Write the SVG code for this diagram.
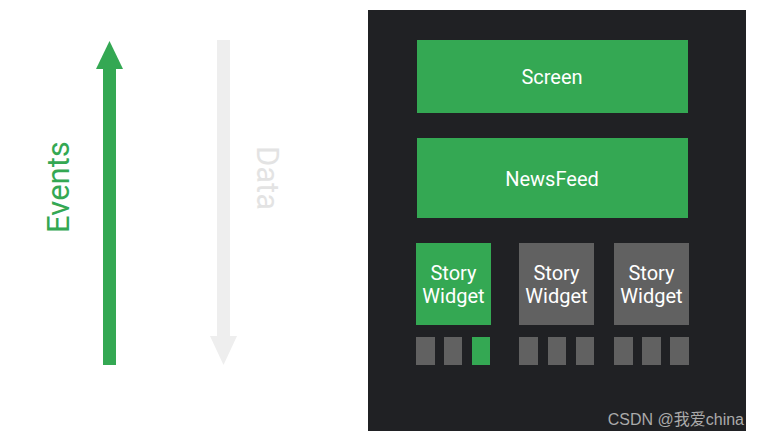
<svg xmlns="http://www.w3.org/2000/svg" width="760" height="439" viewBox="0 0 760 439">
<style>
.g{fill:#34a853}
.k{fill:#616161}
.t{font-family:Roboto,"Liberation Sans",sans-serif;font-size:20px;fill:#ffffff;text-anchor:middle}
</style>
<rect width="760" height="439" fill="#ffffff"/>
<g id="connectors">
<g id="events-arrow">
<rect x="103" y="68" width="13" height="297" class="g"/>
<polygon points="96,69 109.5,41 123,69" class="g"/>
<text transform="translate(69,187) rotate(-90)" text-anchor="middle" font-family="Roboto,'Liberation Sans',sans-serif" font-size="31" fill="#34a853">Events</text>
</g>
<g id="data-arrow">
<rect x="217" y="40" width="13" height="297" fill="#eeeeee"/>
<polygon points="210,336 223.5,365 237,336" fill="#eeeeee"/>
<text transform="translate(257,178) rotate(90)" text-anchor="middle" font-family="Roboto,'Liberation Sans',sans-serif" font-size="31" fill="#e3e3e3">Data</text>
</g>
</g>
<rect id="panel" x="368" y="10" width="378" height="421" fill="#202124"/>
<g id="screen"><rect x="417" y="40" width="271" height="73" class="g"/><text x="552" y="84" class="t">Screen</text></g>
<g id="newsfeed"><rect x="417" y="138" width="271" height="80" class="g"/><text x="552" y="186" class="t">NewsFeed</text></g>
<g id="story1"><rect x="416" y="243" width="75" height="82" class="g"/><text x="453.5" y="280" class="t">Story</text><text x="453.5" y="303" class="t">Widget</text></g>
<g id="story2"><rect x="519" y="243" width="75" height="82" class="k"/><text x="556.5" y="280" class="t">Story</text><text x="556.5" y="303" class="t">Widget</text></g>
<g id="story3"><rect x="614" y="243" width="75" height="82" class="k"/><text x="651.5" y="280" class="t">Story</text><text x="651.5" y="303" class="t">Widget</text></g>
<g id="items">
<rect x="416" y="337" width="19" height="28" class="k"/>
<rect x="444" y="337" width="18" height="28" class="k"/>
<rect x="472" y="337" width="18" height="28" class="g"/>
<rect x="519" y="337" width="19" height="28" class="k"/>
<rect x="548" y="337" width="18" height="28" class="k"/>
<rect x="576" y="337" width="18" height="28" class="k"/>
<rect x="614" y="337" width="19" height="28" class="k"/>
<rect x="642" y="337" width="19" height="28" class="k"/>
<rect x="670" y="337" width="19" height="28" class="k"/>
</g>
<text x="744" y="425" text-anchor="end" font-family="'Liberation Sans','Noto Sans CJK SC',sans-serif" font-size="16" fill="#aaaaaa">CSDN @我爱china</text>
</svg>
